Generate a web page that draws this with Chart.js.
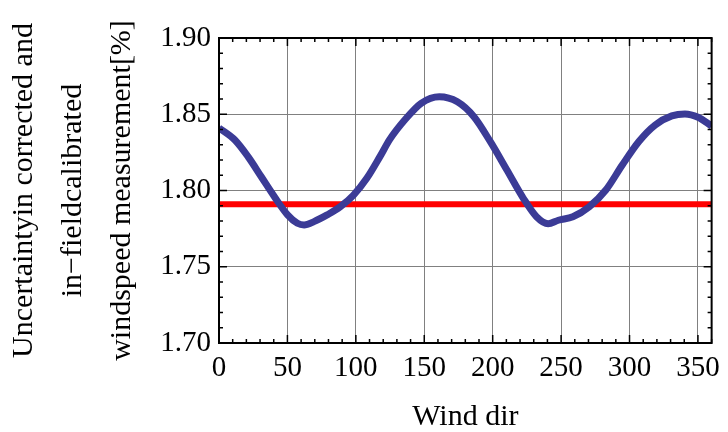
<!DOCTYPE html>
<html>
<head>
<meta charset="utf-8">
<script src="https://cdn.jsdelivr.net/npm/chart.js@4.4.1/dist/chart.umd.min.js"></script>
<style>
  html, body { margin: 0; padding: 0; background: #fff; }
  #wrap { width: 728px; height: 432px; }
</style>
</head>
<body>
<div id="wrap"><canvas id="myChart"></canvas></div>
<script>
  // valores
  const windDir = [0, 11.6, 21.2, 30.9, 40.5, 50.1, 57.3, 62.2, 69.4, 79, 88.7, 98.3, 108, 117.6, 124.8, 135.7, 147.7, 161, 174.2, 186.3, 198.3, 210.4, 222.4, 232, 240.5, 248, 258.6, 270.6, 282.7, 294.7, 306.7, 318.8, 330.9, 340.5, 350.1, 360];
  const uncertainty = [1.8410, 1.8331, 1.8222, 1.8090, 1.7959, 1.7840, 1.7785, 1.7774, 1.7796, 1.7840, 1.7894, 1.7970, 1.8080, 1.8222, 1.8335, 1.8462, 1.8572, 1.8615, 1.8582, 1.8484, 1.8320, 1.8134, 1.7949, 1.7828, 1.7782, 1.7805, 1.7828, 1.7894, 1.8003, 1.8167, 1.8320, 1.8430, 1.8489, 1.8502, 1.8480, 1.8423];
  const refLevel = 1.791;
  const xTicks = [0, 50, 100, 150, 200, 250, 300, 350];
  const yTicks = [1.70, 1.75, 1.80, 1.85, 1.90];

  const serif = 'Liberation Serif';

  // marco negro y ticks hacia adentro (mayores y menores)
  const marcoPlugin = {
    id: 'marco',
    afterDraw(chart) {
      const { ctx, chartArea: a, scales } = chart;
      const xs = scales.x, ys = scales.y;
      ctx.save();
      ctx.strokeStyle = '#000';
      ctx.lineWidth = 1.5;
      ctx.beginPath();
      for (let v = 0; v <= 360; v += 10) {
        const px = xs.getPixelForValue(v);
        const len = (v % 50 === 0) ? 8 : 4;
        ctx.moveTo(px, a.bottom); ctx.lineTo(px, a.bottom - len);
        ctx.moveTo(px, a.top); ctx.lineTo(px, a.top + len);
      }
      for (let i = 0; i <= 20; i++) {
        const v = 1.70 + i * 0.01;
        const py = ys.getPixelForValue(v);
        const len = (i % 5 === 0) ? 8 : 4;
        ctx.moveTo(a.left, py); ctx.lineTo(a.left + len, py);
        ctx.moveTo(a.right, py); ctx.lineTo(a.right - len, py);
      }
      ctx.stroke();
      ctx.lineWidth = 2;
      ctx.strokeRect(a.left, a.top, a.right - a.left, a.bottom - a.top);
      ctx.restore();
    }
  };

  const ctx = document.getElementById('myChart');
  new Chart(ctx, {
    type: 'line',
    data: {
      datasets: [{
        data: windDir.map((x, i) => ({ x: x, y: uncertainty[i] })),
        borderColor: '#3b3b96',
        borderWidth: 7,
        pointRadius: 0,
        cubicInterpolationMode: 'monotone',
        fill: false
      }, {
        data: [{ x: 0, y: refLevel }, { x: 360, y: refLevel }],
        borderColor: '#ff0000',
        borderWidth: 6,
        pointRadius: 0,
        fill: false
      }]
    },
    options: {
      responsive: true,
      maintainAspectRatio: false,
      animation: false,
      layout: { padding: { left: 0, right: 11, top: 38, bottom: 0 } },
      plugins: { legend: { display: false }, tooltip: { enabled: false } },
      scales: {
        x: {
          type: 'linear',
          min: 0,
          max: 360,
          afterBuildTicks: (s) => { s.ticks = xTicks.map(v => ({ value: v })); },
          afterFit: (s) => { s.height = 89; },
          grid: { color: '#808080', lineWidth: 1, drawTicks: false },
          border: { display: false },
          ticks: { color: '#000', padding: 8, maxRotation: 0, font: { family: serif, size: 29 } },
          title: {
            display: true,
            text: 'Wind dir',
            color: '#000',
            padding: { top: 0, bottom: -3 },
            font: { family: serif, size: 30 }
          }
        },
        y: {
          min: 1.70,
          max: 1.90,
          afterBuildTicks: (s) => { s.ticks = yTicks.map(v => ({ value: v })); },
          afterFit: (s) => { s.width = 219; },
          grid: { color: '#808080', lineWidth: 1, drawTicks: false },
          border: { display: false },
          ticks: {
            color: '#000',
            padding: 8,
            font: { family: serif, size: 29 },
            callback: (v) => Number(v).toFixed(2)
          },
          title: {
            display: true,
            text: ['Uncertaintyin corrected and', 'in\u2212fieldcalibrated', 'windspeed measurement[%]'],
            color: '#000',
            padding: { top: 0, bottom: 0 },
            font: { family: serif, size: 30, lineHeight: 1.63 }
          }
        }
      }
    },
    plugins: [marcoPlugin]
  });
</script>
</body>
</html>
